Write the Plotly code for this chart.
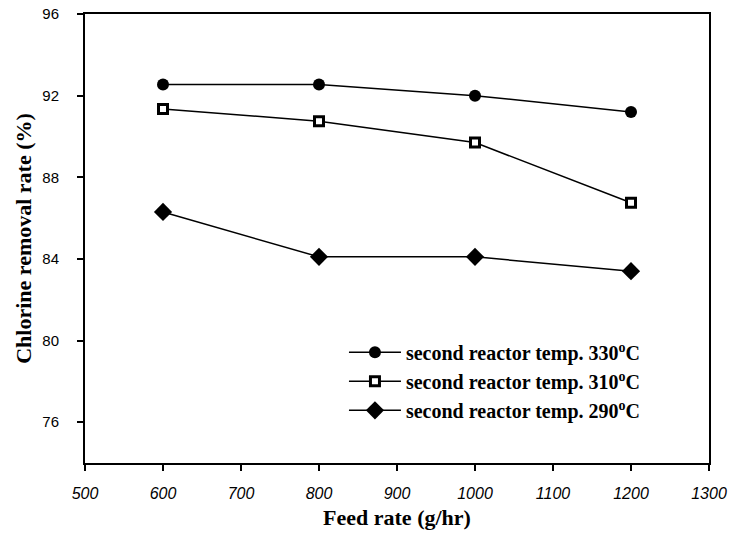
import plotly.graph_objects as go

feed_rate = [600, 800, 1000, 1200]
temp_330 = [92.55, 92.55, 92.0, 91.2]
temp_310 = [91.35, 90.75, 89.7, 86.75]
temp_290 = [86.3, 84.1, 84.1, 83.4]
series_names = [
    "second reactor temp. 330<sup>o</sup>C",
    "second reactor temp. 310<sup>o</sup>C",
    "second reactor temp. 290<sup>o</sup>C",
]
x_ticks = [500, 600, 700, 800, 900, 1000, 1100, 1200, 1300]
y_ticks = [76, 80, 84, 88, 92, 96]

fig = go.Figure()
fig.add_trace(go.Scatter(
    x=feed_rate, y=temp_330, name=series_names[0], mode="lines+markers",
    line=dict(color="black", width=1.5),
    marker=dict(symbol="circle", size=12, color="black")))
fig.add_trace(go.Scatter(
    x=feed_rate, y=temp_310, name=series_names[1], mode="lines+markers",
    line=dict(color="black", width=1.5),
    marker=dict(symbol="square", size=9, color="white", line=dict(color="black", width=3))))
fig.add_trace(go.Scatter(
    x=feed_rate, y=temp_290, name=series_names[2], mode="lines+markers",
    line=dict(color="black", width=1.5),
    marker=dict(symbol="diamond", size=14, color="black")))

fig.update_layout(
    width=729, height=544,
    margin=dict(l=85, r=20, t=14, b=81, autoexpand=False),
    paper_bgcolor="white", plot_bgcolor="white",
    showlegend=True,
    legend=dict(
        x=0.415, y=0.29, xanchor="left", yanchor="top",
        bgcolor="rgba(0,0,0,0)",
        font=dict(family="Liberation Serif", size=20, color="black", weight="bold"),
        tracegroupgap=0, itemwidth=52,
    ),
    font=dict(family="Liberation Sans", color="black"),
)
fig.update_xaxes(
    range=[500, 1300], tickvals=x_ticks, ticktext=[str(v) for v in x_ticks],
    showgrid=False, zeroline=False, showline=True, linecolor="black", linewidth=2,
    mirror=True, ticks="outside", ticklen=6, tickwidth=1.5, tickcolor="black",
    ticklabelstandoff=9, automargin=False,
    tickfont=dict(family="Liberation Sans", size=16, style="italic", color="black"),
    title=dict(text="Feed rate (g/hr)", standoff=8,
               font=dict(family="Liberation Serif", size=22, weight="bold", color="black")),
)
fig.update_yaxes(
    range=[74, 96], tickvals=y_ticks, ticktext=[str(v) for v in y_ticks],
    showgrid=False, zeroline=False, showline=True, linecolor="black", linewidth=2,
    mirror=True, ticks="outside", ticklen=6, tickwidth=1.5, tickcolor="black",
    ticklabelstandoff=15, automargin=False,
    tickfont=dict(family="Liberation Sans", size=15, color="black"),
    title=dict(text="Chlorine removal rate (%)", standoff=5,
               font=dict(family="Liberation Serif", size=22, weight="bold", color="black")),
)

fig.write_html("out.html", config={"displayModeBar": False},
               post_script="document.body.style.margin='0';")
